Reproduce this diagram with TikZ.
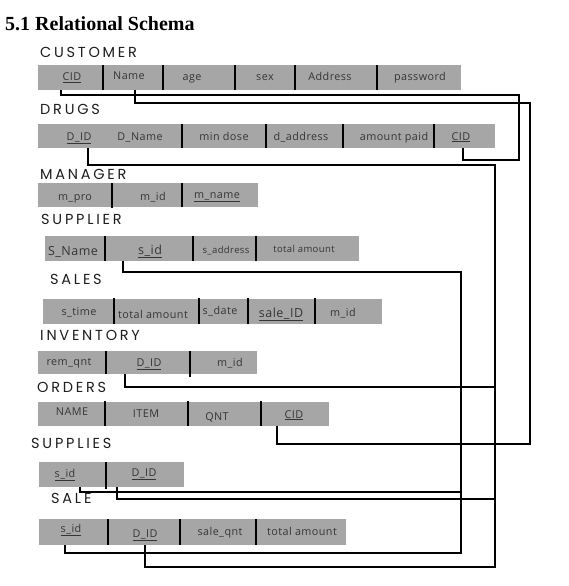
\documentclass[tikz,border=0pt]{standalone}
\usepackage{fontspec}
\setmainfont{Liberation Serif}
\newfontfamily\lblfont[LetterSpace=19]{Poppins}
\newfontfamily\cellfont[LetterSpace=4]{Open Sans}
\definecolor{cellgray}{HTML}{A6A6A6}
\definecolor{celltext}{HTML}{353535}
\definecolor{lbltext}{HTML}{1E1E1E}
\begin{document}
\begin{tikzpicture}[x=1pt,y=-1pt,
  tbl/.style={fill=cellgray, draw=none, inner sep=0pt, outer sep=0pt, anchor=north west},
  sepline/.style={line width=2.8pt, black},
  conn/.style={line width=1.8pt, black, line join=miter},
  lbl/.style={anchor=base west, inner sep=0pt, text=lbltext, font=\lblfont\fontsize{14.5}{16}\selectfont},
  ct/.style={anchor=base, inner sep=0pt, text=celltext, font=\cellfont\fontsize{10.8}{12}\selectfont},
  ctbig/.style={ct, font=\cellfont\fontsize{12.5}{14}\selectfont},
  ctsmall/.style={ct, font=\cellfont\fontsize{9.5}{11}\selectfont}]
\useasboundingbox[fill=white] (0,0) rectangle (568,586);

% title
\node[anchor=base west, inner sep=0pt, font=\bfseries\fontsize{20}{24}\selectfont] (title) at (5,31) {5.1 Relational Schema};

% labels
\node[lbl] (lCust) at (40,58) {CUSTOMER};
\node[lbl] (lDrug) at (40,114) {DRUGS};
\node[lbl] (lMan)  at (40,179) {MANAGER};
\node[lbl] (lSupr) at (41,224) {SUPPLIER};
\node[lbl] (lSales) at (50,284) {SALES};
\node[lbl] (lInv)  at (40,340) {INVENTORY};
\node[lbl] (lOrd)  at (37,392) {ORDERS};
\node[lbl] (lSups) at (31,448) {SUPPLIES};
\node[lbl] (lSale) at (51,503) {SALE};

% tables
\node[tbl, minimum width=423pt, minimum height=25pt] (tCust) at (38,65) {};
\node[tbl, minimum width=457pt, minimum height=24pt] (tDrug) at (38,124) {};
\node[tbl, minimum width=220pt, minimum height=24pt] (tMan)  at (38,183) {};
\node[tbl, minimum width=314pt, minimum height=25pt] (tSupr) at (45,236) {};
\node[tbl, minimum width=339pt, minimum height=25pt] (tSales) at (43,299) {};
\node[tbl, minimum width=219pt, minimum height=23pt] (tInv)  at (38,351) {};
\node[tbl, minimum width=291pt, minimum height=24pt] (tOrd)  at (38,402) {};
\node[tbl, minimum width=145pt, minimum height=25pt] (tSups) at (39,462) {};
\node[tbl, minimum width=307pt, minimum height=26pt] (tSale) at (39,519) {};

% separators
\foreach \x in {103,163,235,295,377} \draw[sepline] (\x,65) -- (\x,90);
\foreach \x in {182,266,343,434} \draw[sepline] (\x,124) -- (\x,148);
\draw[sepline] (112,183) -- (112,208);
\draw[sepline] (182,183) -- (182,207);
\foreach \x in {105,193,256} \draw[sepline] (\x,236) -- (\x,261);
\foreach \x in {114,199,248,315} \draw[sepline] (\x,298) -- (\x,324);
\draw[sepline] (106,351) -- (106,374);
\draw[sepline] (190,351) -- (190,377);
\foreach \x in {105,188,261} \draw[sepline] (\x,401) -- (\x,426);
\draw[sepline] (106,462) -- (106,489);
\foreach \x in {108,180,256} \draw[sepline] (\x,519) -- (\x,545);

% cell texts
\node[ct] (cuCID)  at (72,81)  {\underline{CID}};
\node[ct] (cuName) at (129,79) {Name};
\node[ct] (cuAge)  at (192,81) {age};
\node[ct] (cuSex)  at (265,81) {sex};
\node[ct] (cuAddr) at (330,81) {Address};
\node[ct] (cuPass) at (420,81) {password};

\node[ct] (drDID)  at (79,140)  {\underline{D\_ID}};
\node[ct] (drDName) at (140,140) {D\_Name};
\node[ct] (drMin)  at (224,140) {min dose};
\node[ct] (drAddr) at (301,140) {d\_address};
\node[ct] (drAmt)  at (394,140) {amount paid};
\node[ct] (drCID)  at (461,140) {\underline{CID}};

\node[ct] (maPro)  at (75,200)  {m\_pro};
\node[ct] (maId)   at (153,200) {m\_id};
\node[ct] (maName) at (217,198) {\underline{m\_name}};

\node[ctbig] (spName) at (73,255) {S\_Name};
\node[ctbig] (spId)   at (150,254) {\underline{s\_id}};
\node[ctsmall] (spAddr) at (226,253) {s\_address};
\node[ctsmall] (spTot)  at (304,252) {total amount};

\node[ct] (slTime) at (79,315)  {s\_time};
\node[ct] (slTot)  at (153,318) {total amount};
\node[ct] (slDate) at (220,314) {s\_date};
\node[ctbig] (slId) at (281,317) {\underline{sale\_ID}};
\node[ct] (slMid)  at (343,316) {m\_id};

\node[ct] (inRem) at (69,365)  {rem\_qnt};
\node[ct] (inDID) at (149,366) {\underline{D\_ID}};
\node[ct] (inMid) at (230,366) {m\_id};

\node[ct] (orName) at (72,415)  {NAME};
\node[ct] (orItem) at (146,417) {ITEM};
\node[ct] (orQnt)  at (217,420) {QNT};
\node[ct] (orCID)  at (294,418) {\underline{CID}};

\node[ct] (suSid) at (65,477)  {\underline{s\_id}};
\node[ct] (suDID) at (144,476) {\underline{D\_ID}};

\node[ct] (saSid) at (71,532)  {\underline{s\_id}};
\node[ct] (saDID) at (145,537) {\underline{D\_ID}};
\node[ct] (saQnt) at (220,535) {sale\_qnt};
\node[ct] (saTot) at (302,535) {total amount};

% attach points
\coordinate (pCustCID)  at (61,90);
\coordinate (pCustName) at (135,90);
\coordinate (pDrugDID)  at (88,148);
\coordinate (pDrugCID)  at (463,148);
\coordinate (pSuprSid)  at (123,261);
\coordinate (pInvDID)   at (125,374);
\coordinate (pOrdCID)   at (277,426);
\coordinate (pSupsSid)  at (80,487);
\coordinate (pSupsDID)  at (117,487);
\coordinate (pSaleSid)  at (65,545);
\coordinate (pSaleDID)  at (145,545);
\coordinate (jInv)  at (495,387);
\coordinate (jSupsSid) at (461,492);
\coordinate (jSupsDID) at (495,499);

% connectors
\draw[conn] (pCustCID) |- (519,95) |- (463,160) -- (pDrugCID);
\draw[conn] (pCustName) |- (530,103) |- (277,444) -- (pOrdCID);
\draw[conn] (pDrugDID) |- (495,165) |- (145,567) -- (pSaleDID);
\draw[conn] (pSuprSid) |- (461,272) |- (65,553) -- (pSaleSid);
\draw[conn] (pInvDID) |- (jInv);
\draw[conn] (pSupsSid) |- (jSupsSid);
\draw[conn] (pSupsDID) |- (jSupsDID);
\end{tikzpicture}
\end{document}
